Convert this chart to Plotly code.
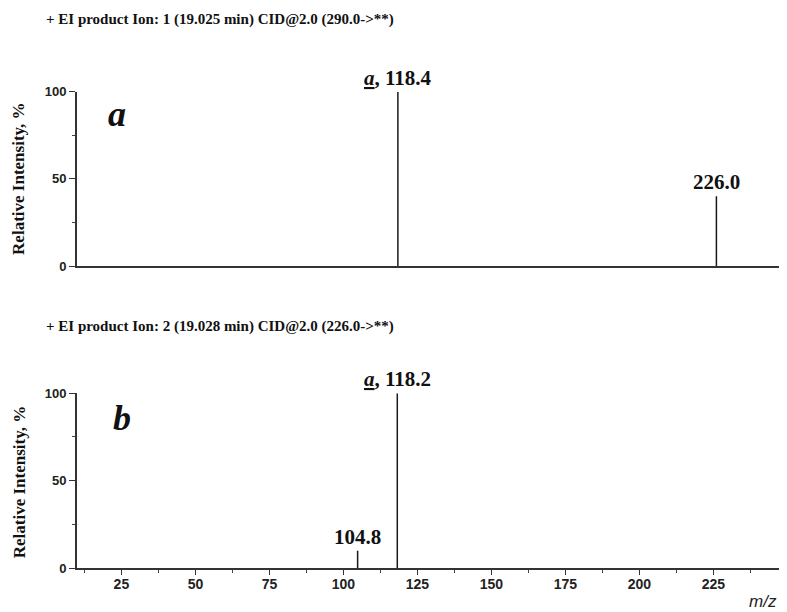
import plotly.graph_objects as go

# Data
titles = ["+ EI product Ion: 1 (19.025 min) CID@2.0 (290.0->**)",
          "+ EI product Ion: 2 (19.028 min) CID@2.0 (226.0->**)"]
panel_labels = ["a", "b"]
mz_a = [118.4, 226.0]
int_a = [100, 40]
lab_a = ["<u><i>a</i></u>, 118.4", "226.0"]
mz_b = [104.8, 118.2]
int_b = [10, 100]
lab_b = ["104.8", "<u><i>a</i></u>, 118.2"]
x_ticks = [25, 50, 75, 100, 125, 150, 175, 200, 225]
y_ticks = [0, 50, 100]

# page body has an 8px margin: map reference pixel positions into the figure
OFF = 8
W, H = 787 - OFF, 612 - OFF
def px(x):
    return (x - OFF) / W
def py(y):
    y = (y - 7.5) / 0.974
    return 1 - (y - OFF) / H

fig = go.Figure()

def sticks(xs, ys):
    X, Y = [], []
    for x, y in zip(xs, ys):
        X += [x, x, None]
        Y += [0, y, None]
    return X, Y

serif = "Liberation Serif"
sans = "Liberation Sans"

for i, (xs, ys, labs) in enumerate([(mz_a, int_a, lab_a), (mz_b, int_b, lab_b)]):
    X, Y = sticks(xs, ys)
    xa = "x" if i == 0 else "x2"
    ya = "y" if i == 0 else "y2"
    fig.add_trace(go.Scatter(x=X, y=Y, mode="lines", line=dict(color="#1a1a1a", width=1.5),
                             xaxis=xa, yaxis=ya, showlegend=False, hoverinfo="skip"))
    for x, y, t in zip(xs, ys, labs):
        fig.add_annotation(x=x, y=y, xref=xa, yref=ya, text=t, showarrow=False,
                           yanchor="bottom", yshift=0, xanchor="center",
                           font=dict(family=serif, size=21, color="#111", weight="bold"))

xdom = [px(77), px(783)]
common_x = dict(range=[10, 248.5], showline=True, linecolor="#333", linewidth=1.8,
                showgrid=False, zeroline=False, tickvals=x_ticks)
fig.update_layout(
    width=W, height=H, margin=dict(l=0, r=0, t=0, b=0),
    plot_bgcolor="white", paper_bgcolor="white",
    xaxis=dict(domain=xdom, anchor="y", **common_x, showticklabels=False, ticks=""),
    xaxis2=dict(domain=xdom, anchor="y2", **common_x, ticks="outside", ticklen=5,
                tickcolor="#333", tickwidth=1.3, ticklabelstandoff=-3,
                tickfont=dict(family=sans, size=14, color="#222", weight="bold"),
                minor=dict(tickvals=[12.5 + 25 * k for k in range(10)], ticks="outside",
                           ticklen=3, tickcolor="#444")),
)
for name, dom in [("yaxis", [py(266), py(92)]), ("yaxis2", [py(568), py(393)])]:
    fig.layout[name] = dict(domain=dom, anchor="x" if name == "yaxis" else "x2",
                            range=[0, 100], showline=True, linecolor="#333", linewidth=1.8,
                            showgrid=False, zeroline=False, tickvals=y_ticks,
                            ticks="outside", ticklen=6, tickcolor="#333", tickwidth=1.3,
                            tickfont=dict(family=sans, size=13, color="#222", weight="bold"),
                            minor=dict(tickvals=[25, 75], ticks="outside", ticklen=3,
                                       tickcolor="#444"))

# Titles
for t, ypx in zip(titles, [20, 326]):
    fig.add_annotation(x=px(44), y=py(ypx), xref="paper", yref="paper", text=t,
                       showarrow=False, xanchor="left", yanchor="middle",
                       font=dict(family=serif, size=15, color="#111", weight="bold"))
# Panel letters
for t, ypx, xpx in zip(panel_labels, [114, 418], [117, 122]):
    fig.add_annotation(x=px(xpx), y=py(ypx), xref="paper", yref="paper",
                       text="<i>" + t + "</i>", showarrow=False,
                       xanchor="center", yanchor="middle",
                       font=dict(family=serif, size=36, color="#111", weight="bold"))
# Y titles
for ypx in [179, 482]:
    fig.add_annotation(x=px(19), y=py(ypx), xref="paper", yref="paper",
                       text="Relative Intensity, %", textangle=-90, showarrow=False,
                       xanchor="center", yanchor="middle",
                       font=dict(family=serif, size=17, color="#111", weight="bold"))
# m/z
fig.add_annotation(x=px(779), y=py(601), xref="paper", yref="paper", text="<i>m/z</i>",
                   showarrow=False, xanchor="right", yanchor="middle",
                   font=dict(family=sans, size=17, color="#222"))

fig.write_html("out.html")
